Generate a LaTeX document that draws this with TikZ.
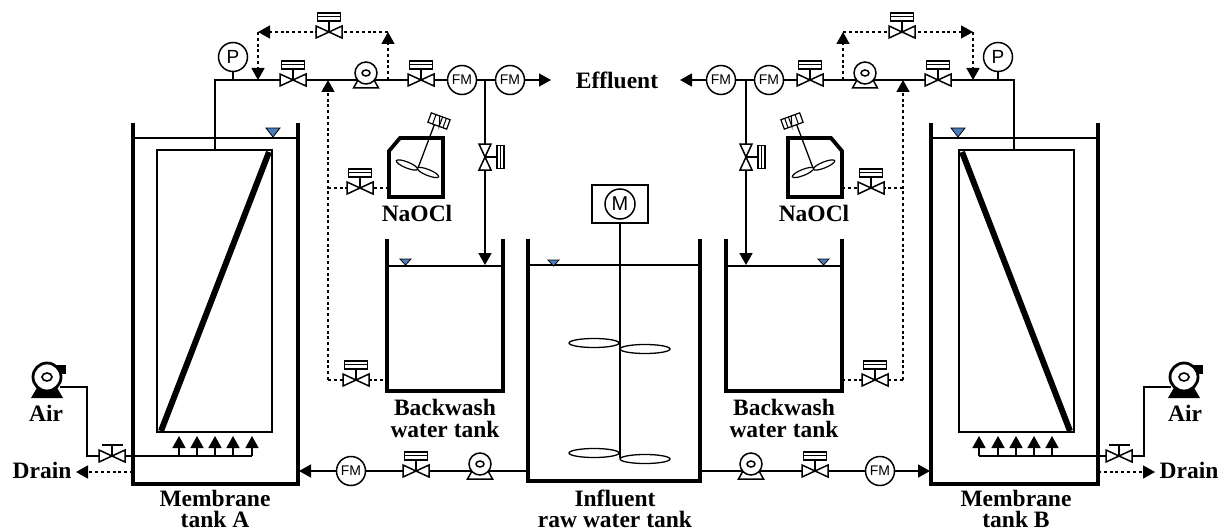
\documentclass[tikz,border=0pt]{standalone}
\usepackage{fontspec}
\setmainfont{Liberation Serif}
\newfontfamily\symfont{Liberation Sans}
\usetikzlibrary{arrows.meta,backgrounds,calc}
\definecolor{watercol}{HTML}{4A7EBB}
\tikzset{
  x=1pt,y=-1pt,
  pipeline/.style={line width=1.7pt,line join=miter},
  dotline/.style={line width=1.7pt,dash pattern=on 3pt off 2.8pt},
  tip/.style={-{Triangle[length=12pt,width=13pt]}},
  wall/.style={line width=3.3pt,line join=miter},
  thin line/.style={line width=1.4pt},
  gauge/.style={circle,draw,fill=white,line width=1.5pt,inner sep=0pt,minimum size=29pt,font=\symfont\fontsize{14}{14}\selectfont},
  label text/.style={font=\bfseries\fontsize{23.5}{21.5}\selectfont,align=center,inner sep=0pt},
  water mark/.style={fill=watercol,draw=black,line width=.8pt},
  pics/ctrlvalve/.style={code={
    \draw[line width=1.5pt,fill=white] (-13,-6)--(13,6)--(13,-6)--(-13,6)--cycle;
    \draw[line width=1.5pt] (0,0)--(0,-11);
    \draw[line width=1.4pt,fill=white] (-11.5,-19) rectangle (11.5,-11);
    \draw[line width=1.4pt] (-11.5,-15.5)--(11.5,-15.5);
  }},
  pics/handvalve/.style={code={
    \draw[line width=1.5pt,fill=white] (-13,-6)--(13,6)--(13,-6)--(-13,6)--cycle;
    \draw[line width=1.5pt] (0,0)--(0,-11) (-10.5,-11)--(10.5,-11);
  }},
  pics/sidevalve/.style={code={
    \draw[line width=1.5pt,fill=white] (-6,-13)--(6,13)--(-6,13)--(6,-13)--cycle;
    \draw[line width=1.5pt] (0,0)--(12,0);
    \draw[line width=1.3pt,fill=white] (12,-11.5) rectangle (19,11.5);
    \draw[line width=1.2pt] (15.5,-11.5)--(15.5,11.5);
  }},
  pics/pumpsym/.style={code={
    \draw[line width=1.5pt,fill=white] (-8,0)--(8,0)--(12.5,8)--(-12.5,8)--cycle;
    \draw[line width=1.5pt,fill=white] (0,-7) circle [radius=11];
    \draw[line width=1.5pt] (0,-7) ellipse [x radius=4,y radius=3];
  }},
  pics/blowersym/.style={code={
    \fill (0,-12) rectangle (19,-3);
    \fill (-9,9)--(9,9)--(16,21)--(-16,21)--cycle;
    \draw[line width=2.8pt,fill=white] (0,0) circle [radius=14];
    \draw[line width=1.6pt] (0,0) ellipse [x radius=5,y radius=4];
  }},
}
\newcommand\halfplant[3]{%
  % equipment positions
  \node[gauge,minimum size=29pt,font=\symfont\fontsize{19}{19}\selectfont] (press#1) at (233,57) {P};
  \node[gauge] (fma#1) at (462,80) {FM};
  \node[gauge] (fmb#1) at (510,80) {FM};
  \node[gauge] (fmc#1) at (351,471) {FM};
  \coordinate (topout#1) at ({215+#3},150);
  \coordinate (corner#1) at ({215+#3},80);
  \coordinate (tap#1) at (233,80);
  \coordinate (va#1) at (293,80);
  \coordinate (pa#1) at (366,80);
  \coordinate (vb#1) at (421,80);
  \coordinate (tee#1) at (485,80);
  \coordinate (eff#1) at (551,80);
  \coordinate (vdrop#1) at (485,157);
  \coordinate (dropend#1) at (485,265);
  \coordinate (byr#1) at (388,80);
  \coordinate (byrt#1) at (388,32);
  \coordinate (vby#1) at (329,32);
  \coordinate (bylt#1) at (258,32);
  \coordinate (byl#1) at (258,80);
  \coordinate (dtop#1) at (328,80);
  \coordinate (dmid#1) at (328,188);
  \coordinate (dlow#1) at (328,380);
  \coordinate (vna#1) at (360,188);
  \coordinate (na#1) at (389,188);
  \coordinate (vbw#1) at (356,380);
  \coordinate (bw#1) at ({387+#3},380);
  \coordinate (inf#1) at ({528+#3},471);
  \coordinate (pb#1) at (480,471);
  \coordinate (vc#1) at (416,471);
  \coordinate (inlet#1) at ({299+#3},471);
  \coordinate (blow#1) at (60,387);
  \coordinate (bend#1) at (87,387);
  \coordinate (bend2#1) at (87,456);
  \coordinate (vair#1) at (112,456);
  \coordinate (hd#1) at (252,456);
  \coordinate (drs#1) at (133,472);
  \coordinate (dre#1) at (76,472);
  \begin{scope}[on background layer]
    \draw[pipeline] (topout#1)--(corner#1)--(tap#1)--(va#1)--(pa#1)--(vb#1)--(fma#1)--(tee#1)--(fmb#1);
    \draw[pipeline] (press#1)--(tap#1);
    \draw[pipeline,tip] (fmb#1)--(eff#1);
    \draw[pipeline] (tee#1)--(vdrop#1);
    \draw[pipeline,tip] (vdrop#1)--(dropend#1);
    \draw[dotline,tip] (byr#1)--(byrt#1);
    \draw[dotline,tip] (byrt#1)--(vby#1)--(bylt#1);
    \draw[dotline,tip] (bylt#1)--(byl#1);
    \draw[dotline,tip] (dlow#1)--(dmid#1)--(dtop#1);
    \draw[dotline] (dmid#1)--(vna#1)--(na#1);
    \draw[dotline] (dlow#1)--(vbw#1)--(bw#1);
    \draw[pipeline] (inf#1)--(pb#1)--(vc#1)--(fmc#1);
    \draw[pipeline,tip] (fmc#1)--(inlet#1);
    \draw[pipeline] (blow#1)--(bend#1)--(bend2#1)--(vair#1)--(hd#1);
    \draw[dotline,tip] (drs#1)--(dre#1);
    \foreach \xa in {179,197,215,233,252}
      \draw[pipeline,tip] (\xa,456)--(\xa,436);
  \end{scope}
  % membrane tank
  \draw[wall] (133,123)--(133,484)--({298+#3},484)--({298+#3},123);
  \draw[thin line] (133,138)--({298+#3},138);
  \draw[thin line] (157,150) rectangle (272,432);
  \draw[line width=6pt] (161,431)--(269,152);
  \draw[water mark] (266,128)--(280,128)--(273,137)--cycle;
  % backwash tank
  \begin{scope}[xshift=#3 pt]
    \draw[wall] (387,239)--(387,391)--(503,391)--(503,239);
    \draw[line width=1.5pt] (387,266)--(503,266);
    \draw[water mark] (400,259)--(411,259)--(405.5,265)--cycle;
    \node[label text] (bwt#1) at (445,418.5) {Backwash\\water tank};
  \end{scope}
  % NaOCl vessel
  \draw[wall,line width=3.8pt] (400,138)--(443,138)--(443,197)--(389,197)--(389,151)--cycle;
  \draw[line width=1.3pt] (418,168)--(435,123);
  \draw[line width=1.2pt,fill=white,rotate around={-22:(407,165)}] (407,165) ellipse [x radius=11.5,y radius=3];
  \draw[line width=1.2pt,fill=white,rotate around={-22:(428,172.5)}] (428,172.5) ellipse [x radius=11.5,y radius=3];
  \begin{scope}[shift={(439,121)},rotate=-20]
    \draw[line width=1.2pt,fill=white] (-10,-5) rectangle (10,5);
    \draw[line width=1pt] (-5,-5)--(-5,5) (-1,-5)--(2,5)--(2,-5) (6,-5)--(6,5);
  \end{scope}
  \node[label text] (naocl#1) at (417,213) {NaOCl};
  % symbols
  \pic at (va#1) {ctrlvalve};
  \pic at (pa#1) {pumpsym};
  \pic at (vb#1) {ctrlvalve};
  \pic at (vdrop#1) {sidevalve};
  \pic at (vby#1) {ctrlvalve};
  \pic at (vna#1) {ctrlvalve};
  \pic at (vbw#1) {ctrlvalve};
  \pic at (vc#1) {ctrlvalve};
  \pic at (pb#1) {pumpsym};
  \pic at (vair#1) {handvalve};
  \pic at (47,377) {blowersym};
  \node[label text] (air#1) at (46,413) {Air};
  \node[label text] (drain#1) at (42,470) {Drain};
  \node[label text] (mem#1) at (215,509) {Membrane\\tank #2};
}
\begin{document}
\begin{tikzpicture}
  \useasboundingbox (0,0) rectangle (1225,532);
  \begin{scope}
    \halfplant{L}{A}{0}
  \end{scope}
  \begin{scope}[xshift=1231pt,xscale=-1]
    \halfplant{R}{B}{2}
  \end{scope}
  \node[label text] (effluent) at (617,80) {Effluent};
  % influent tank
  \draw[wall] (528,239)--(528,481)--(700,481)--(700,239);
  \draw[thin line] (528,265)--(700,265);
  \draw[water mark] (548,260)--(559,260)--(553.5,266)--cycle;
  \node[draw,line width=1.4pt,minimum width=56pt,minimum height=38pt,inner sep=0pt] (motorbox) at (620,204) {};
  \node[gauge,minimum size=30pt,font=\symfont\fontsize{20}{20}\selectfont] (motor) at (620,204) {M};
  \coordinate (shaftend) at (620,458);
  \draw[line width=1.3pt] (motorbox.south)--(shaftend);
  \foreach \cx/\cy in {594/343,645/349,594/453,645/459}
    \draw[line width=1.3pt,fill=white] (\cx,\cy) ellipse [x radius=25,y radius=4.5];
  \node[label text] (influent) at (615,509) {Influent\\raw water tank};
\end{tikzpicture}
\end{document}
